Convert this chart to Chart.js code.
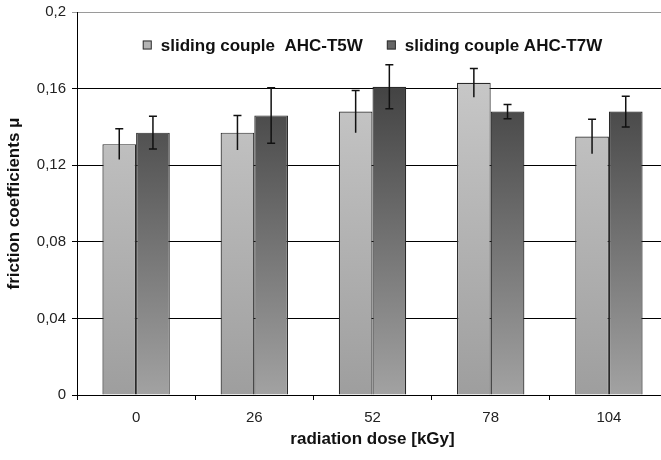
<!DOCTYPE html>
<html>
<head>
<meta charset="utf-8">
<script src="https://cdn.jsdelivr.net/npm/chart.js@4/dist/chart.umd.min.js"></script>
<style>
  html, body { margin: 0; padding: 0; background: #fff; overflow: hidden; }
  #wrap { width: 680px; height: 460px; }
</style>
</head>
<body>
<div id="wrap"><canvas id="friction" width="680" height="460"></canvas></div>
<script>
// radiation dose [kGy]
const doses = ['0', '26', '52', '78', '104'];

// mean friction coefficients
const t5w = [0.131, 0.137, 0.148, 0.163, 0.135];
const t7w = [0.137, 0.146, 0.161, 0.148, 0.148];

// standard deviation
const t5wErr = [0.008, 0.009, 0.011, 0.0075, 0.009];
const t7wErr = [0.0085, 0.0145, 0.0115, 0.0037, 0.008];

const yTicks = [0, 0.04, 0.08, 0.12, 0.16, 0.2];

Chart.defaults.font.family = '"Liberation Sans", Arial, sans-serif';
Chart.defaults.color = '#222';

const shade = (top, bottom) => (context) => {
  const { ctx, chartArea } = context.chart;
  if (!chartArea) return bottom;
  const g = ctx.createLinearGradient(0, chartArea.top, 0, chartArea.bottom);
  g.addColorStop(0, top);
  g.addColorStop(1, bottom);
  return g;
};

// error bars, drawn on top of each bar
const errorBars = {
  id: 'errorBars',
  afterDatasetsDraw(chart) {
    const { ctx } = chart;
    const y = chart.scales.y;
    chart.data.datasets.forEach((ds, i) => {
      const meta = chart.getDatasetMeta(i);
      meta.data.forEach((bar, j) => {
        const hi = y.getPixelForValue(ds.data[j] + ds.errors[j]);
        const lo = y.getPixelForValue(ds.data[j] - ds.errors[j]);
        ctx.save();
        ctx.strokeStyle = '#111';
        ctx.lineWidth = 1.5;
        ctx.beginPath();
        ctx.moveTo(bar.x, hi);
        ctx.lineTo(bar.x, lo);
        ctx.moveTo(bar.x - 4, hi);
        ctx.lineTo(bar.x + 4, hi);
        if (ds.lowCap) {
          ctx.moveTo(bar.x - 4, lo);
          ctx.lineTo(bar.x + 4, lo);
        }
        ctx.stroke();
        ctx.restore();
      });
    });
  }
};

// legend sits inside the plot, near the top
const insideLegend = {
  id: 'insideLegend',
  afterDraw(chart) {
    const { ctx, chartArea } = chart;
    const box = 9, gap = 9, itemGap = 24;
    ctx.save();
    ctx.font = 'bold 17px "Liberation Sans", Arial, sans-serif';
    const items = chart.data.datasets.map(ds => ({
      text: ds.label,
      w: ctx.measureText(ds.label).width,
      fill: ds.legendColor
    }));
    const total = items.reduce((s, it) => s + box + gap + it.w, 0) + itemGap * (items.length - 1);
    let x = (chartArea.left + chartArea.right) / 2 - total / 2;
    const cy = chartArea.top + 33;
    items.forEach(it => {
      ctx.fillStyle = it.fill;
      ctx.fillRect(x, cy - box / 2, box, box);
      ctx.strokeStyle = '#333';
      ctx.lineWidth = 1;
      ctx.strokeRect(x + 0.5, cy - box / 2 + 0.5, box - 1, box - 1);
      ctx.fillStyle = '#111';
      ctx.textBaseline = 'middle';
      ctx.fillText(it.text, x + box + gap, cy + 1);
      x += box + gap + it.w + itemGap;
    });
    ctx.restore();
  }
};

new Chart(document.getElementById('friction'), {
  type: 'bar',
  data: {
    labels: doses,
    datasets: [
      {
        label: 'sliding couple  AHC-T5W',
        data: t5w,
        errors: t5wErr,
        lowCap: false,
        legendColor: '#b4b4b4',
        backgroundColor: shade('#d0d0d0', '#9e9e9e'),
        borderColor: '#2a2a2a',
        borderWidth: 1.2,
      },
      {
        label: 'sliding couple AHC-T7W',
        data: t7w,
        errors: t7wErr,
        lowCap: true,
        legendColor: '#666',
        backgroundColor: shade('#2c2c2c', '#a2a2a2'),
        borderColor: '#2a2a2a',
        borderWidth: 1.2,
      },
    ],
  },
  options: {
    responsive: false,
    animation: false,
    layout: { padding: { top: 12, right: 12, left: 0, bottom: 0 } },
    categoryPercentage: 0.57,
    barPercentage: 1.0,
    plugins: {
      legend: { display: false },
      tooltip: { enabled: false },
    },
    scales: {
      x: {
        grid: { display: true, drawOnChartArea: false, drawTicks: true, tickLength: 5, color: '#000', offset: true },
        border: { color: '#000', width: 1 },
        ticks: { font: { size: 15 }, padding: 9, color: '#222' },
        title: {
          display: true,
          text: 'radiation dose [kGy]',
          font: { size: 17, weight: 'bold' },
          color: '#111',
          padding: { top: 4, bottom: 10 },
        },
        afterFit: (scale) => { scale.height = 65; },
      },
      y: {
        min: 0,
        max: 0.2,
        afterBuildTicks: (scale) => { scale.ticks = yTicks.map(v => ({ value: v })); },
        grid: {
          color: (c) => (c.tick && c.tick.value === 0.2 ? '#9a9a9a' : '#000'),
          lineWidth: 1,
          tickLength: 5,
        },
        border: { color: '#000', width: 1 },
        ticks: {
          font: { size: 15 },
          padding: 6,
          color: '#222',
          callback: (v) => (v === 0 ? '0' : String(+v.toFixed(2)).replace('.', ',')),
        },
        title: {
          display: true,
          text: 'friction coefficients μ',
          font: { size: 17, weight: 'bold' },
          color: '#111',
          padding: { top: 4, bottom: 4 },
        },
        afterFit: (scale) => {
          scale.width = 77;
          scale.paddingTop = 0;
          scale.paddingBottom = 0;
        },
      },
    },
  },
  plugins: [errorBars, insideLegend],
});
</script>
</body>
</html>
